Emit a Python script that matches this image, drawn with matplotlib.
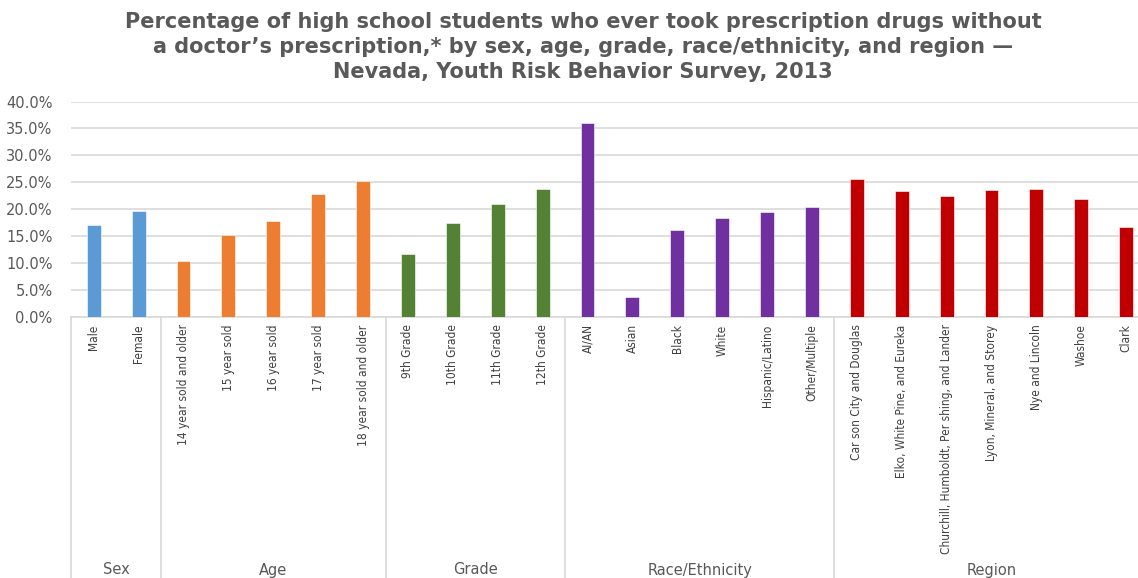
import matplotlib.pyplot as plt
import matplotlib.transforms as mtransforms
import numpy as np

plt.rcParams['font.family'] = ['DejaVu Sans']

groups = ['Sex', 'Age', 'Grade', 'Race/Ethnicity', 'Region']
labels = [
    ['Male', 'Female'],
    ['14 year sold and older', '15 year sold', '16 year sold', '17 year sold', '18 year sold and older'],
    ['9th Grade', '10th Grade', '11th Grade', '12th Grade'],
    ['AI/AN', 'Asian', 'Black', 'White', 'Hispanic/Latino', 'Other/Multiple'],
    ['Car son City and Douglas', 'Elko, White Pine, and Eureka',
     'Churchill, Humboldt, Per shing, and Lander', 'Lyon, Mineral, and Storey',
     'Nye and Lincoln', 'Washoe', 'Clark'],
]
values = [
    [17.0, 19.6],
    [10.3, 15.1, 17.7, 22.8, 25.3],
    [11.6, 17.5, 20.9, 23.8],
    [36.0, 3.7, 16.2, 18.3, 19.4, 20.3],
    [25.6, 23.4, 22.5, 23.6, 23.8, 21.8, 16.6],
]
colors = ['#5b9bd5', '#ed7d31', '#548235', '#7030a0', '#c00000']

W, H = 1138, 578
fig = plt.figure(figsize=(W / 100, H / 100), dpi=100)
left, right, top, bottom = 71.3, 1148.6, 101.5, 316.7
ax = fig.add_axes([left / W, 1 - bottom / H, (right - left) / W, (bottom - top) / H])

gray = '#595959'
grid = '#d9d9d9'
ticks, ticklabels = [], []
pos = 0
bounds = [-0.5]
centers = []
for g, labs, vals, c in zip(groups, labels, values, colors):
    x = np.arange(pos, pos + len(vals))
    ax.bar(x, vals, width=0.31, color=c, edgecolor='white', linewidth=0.4, zorder=3)
    ticks += list(x)
    ticklabels += labs
    centers.append(pos + (len(vals) - 1) / 2)
    pos += len(vals)
    bounds.append(pos - 0.5)

ax.set_xlim(-0.5, pos - 0.5)
ax.set_ylim(0, 40)
ax.set_yticks(np.arange(0, 41, 5))
ax.set_yticklabels(['%.1f%%' % v for v in np.arange(0, 41, 5)], color=gray, fontsize=10.5)
ax.tick_params(axis='y', length=0, pad=13.5)
ax.grid(axis='y', color=grid, linewidth=1.2, zorder=0)
for s in ['top', 'right', 'left']:
    ax.spines[s].set_visible(False)
ax.spines['bottom'].set_color(grid)
ax.spines['bottom'].set_linewidth(1.2)

ax.set_xticks(ticks)
ax.set_xticklabels(ticklabels, rotation=90, va='top', ha='center', color='#404040',
                   fontsize=8.6, fontstretch='condensed')
ax.tick_params(axis='x', length=0, pad=5.5)

trans = mtransforms.blended_transform_factory(ax.transData, ax.transAxes)
ybot = -(H - bottom) / (bottom - top)
for b in bounds:
    ax.plot([b, b], [0, ybot], color=grid, linewidth=1.2, transform=trans, clip_on=False)
for g, cx in zip(groups, centers):
    ax.text(cx, (bottom - 570) / (bottom - top), g, transform=trans, ha='center', va='center',
            color=gray, fontsize=10.5)

title = ('Percentage of high school students who ever took prescription drugs without\n'
         'a doctor\u2019s prescription,* by sex, age, grade, race/ethnicity, and region \u2014\n'
         'Nevada, Youth Risk Behavior Survey, 2013')
fig.text(583 / W, 1 - 12 / H, title, ha='center', va='top', fontsize=15, fontweight='bold',
         color=gray, linespacing=1.32)

fig.savefig('out.png', dpi=100)
